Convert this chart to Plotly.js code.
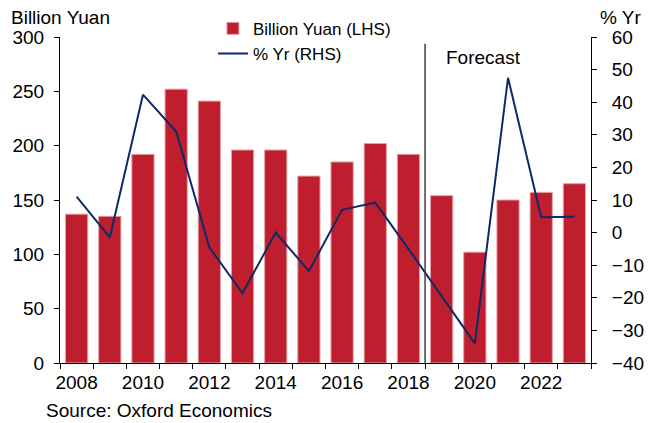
<!DOCTYPE html>
<html>
<head>
<meta charset="utf-8">
<script src="https://cdn.plot.ly/plotly-3.0.1.min.js"></script>
<style>html,body{margin:0;padding:0;background:#fff;}#chart{width:648px;height:423px;}</style>
</head>
<body>
<div id="chart"></div>
<script>
const years = [2008, 2009, 2010, 2011, 2012, 2013, 2014, 2015, 2016, 2017, 2018, 2019, 2020, 2021, 2022, 2023];
const billionYuan = [137, 135, 192, 252, 241, 196, 196, 172, 185, 202, 192, 154, 102, 150, 157, 165];
const pctYr = [11, -1.5, 42.3, 31, -4.5, -18.6, 0, -11.8, 7, 9.2, -5, -19.5, -34, 47.5, 4.7, 4.9];
const xTickVals = [2008, 2010, 2012, 2014, 2016, 2018, 2020, 2022];
const forecastStart = 2018.5;

const FONT = 'Liberation Sans, Arial, sans-serif';

const traces = [
  {
    type: 'bar', x: years, y: billionYuan, name: 'Billion Yuan (LHS)',
    marker: {color: '#BE1E2D', line: {color: '#E3A0A6', width: 1}},
    yaxis: 'y', hoverinfo: 'skip'
  },
  {
    type: 'scatter', mode: 'lines', x: years, y: pctYr, name: '% Yr (RHS)',
    line: {color: '#0E2A66', width: 2}, yaxis: 'y2', hoverinfo: 'skip'
  }
];

const layout = {
  width: 648, height: 423,
  margin: {l: 60, r: 57, t: 36, b: 60},
  paper_bgcolor: '#fff', plot_bgcolor: '#fff',
  font: {family: FONT, size: 19, color: '#000'},
  bargap: 0.33,
  showlegend: true,
  legend: {
    x: 0.288, y: 1.077, xanchor: 'left', yanchor: 'top',
    font: {family: FONT, size: 17, color: '#000'},
    bgcolor: 'rgba(0,0,0,0)', tracegroupgap: 0, itemwidth: 30
  },
  xaxis: {
    range: [2007.5, 2023.5], tickmode: 'array', tickvals: xTickVals,
    ticks: '', showline: true, linecolor: '#000', linewidth: 1,
    showgrid: false, zeroline: false,
    minor: {tick0: 2007.5, dtick: 1, ticks: 'outside', ticklen: 5, tickcolor: '#000', showgrid: false},
    tickfont: {size: 19}, ticklabelstandoff: 2
  },
  yaxis: {
    range: [0, 300], dtick: 50, ticks: 'outside', ticklen: 5, tickcolor: '#000',
    showline: true, linecolor: '#000', linewidth: 1, showgrid: false, zeroline: false,
    ticklabelstandoff: 6, tickfont: {size: 19}
  },
  yaxis2: {
    range: [-40, 60], dtick: 10, overlaying: 'y', side: 'right',
    ticks: 'outside', ticklen: 5, tickcolor: '#000',
    showline: true, linecolor: '#000', linewidth: 1, showgrid: false, zeroline: false,
    ticklabelstandoff: 11, tickfont: {size: 19}
  },
  shapes: [
    {type: 'line', xref: 'x', yref: 'paper', x0: forecastStart, x1: forecastStart, y0: 0, y1: 0.979,
     line: {color: '#404040', width: 1.5}}
  ],
  annotations: [
    {text: 'Billion Yuan', xref: 'paper', yref: 'paper', x: -0.096, y: 1.061, xanchor: 'left', yanchor: 'middle', showarrow: false, font: {size: 19}},
    {text: '% Yr', xref: 'paper', yref: 'paper', x: 1.099, y: 1.061, xanchor: 'right', yanchor: 'middle', showarrow: false, font: {size: 19}},
    {text: 'Forecast', xref: 'paper', yref: 'paper', x: 0.724, y: 0.936, xanchor: 'left', yanchor: 'middle', showarrow: false, font: {size: 19}},
    {text: 'Source: Oxford Economics', xref: 'paper', yref: 'paper', x: -0.03, y: -0.147, xanchor: 'left', yanchor: 'middle', showarrow: false, font: {size: 19}}
  ]
};

Plotly.newPlot('chart', traces, layout, {staticPlot: true, displayModeBar: false});
</script>
</body>
</html>
